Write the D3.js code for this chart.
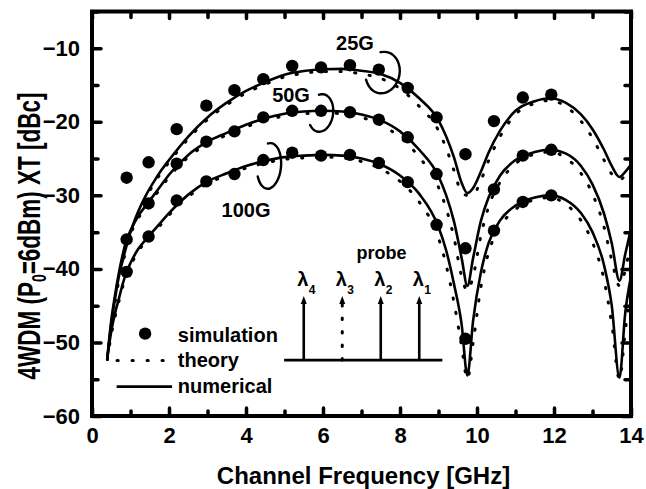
<!DOCTYPE html>
<html>
<head>
<meta charset="utf-8">
<script src="https://cdn.jsdelivr.net/npm/d3@7"></script>
<style>
  body { margin: 0; background: #fff; }
  svg { display: block; }
  text { font-family: "Liberation Sans", Arial, Helvetica, sans-serif; font-weight: bold; fill: #000; }
</style>
</head>
<body>
<svg id="chart" width="646" height="489"></svg>
<script>
// ---- data -------------------------------------------------------------
// frequency grid (GHz) shared by the theory and numerical curves
const freq = [0.4, 0.5, 0.6, 0.7, 0.8, 0.9, 1.0, 1.2, 1.4, 1.6, 1.8, 2.0, 2.5, 3.0, 3.5, 4.0, 4.5,
              5.0, 5.5, 6.0, 6.5, 7.0, 7.5, 8.0, 8.5, 9.0, 9.2, 9.4, 9.6, 9.75, 9.9, 10.1, 10.3,
              10.6, 11.0, 11.5, 11.9, 12.3, 12.7, 13.0, 13.3, 13.5, 13.7, 13.85, 14.0];

// numerical (solid) curves, dBc
const num25  = [-52, -47.5, -44, -41, -38.8, -36.8, -35.0, -32.2, -30.0, -28.2, -26.6, -25.2, -22.0, -19.4, -17.4, -15.8, -14.6,
                -13.6, -13.1, -12.85, -12.8, -13.05, -13.5, -14.7, -16.8, -19.8, -22.0, -24.8, -28.3, -29.7, -29.0, -26.8, -24.2,
                -21.2, -18.5, -17.2, -16.8, -17.4, -19.0, -21.0, -23.8, -26.0, -27.5, -26.8, -25.8];
const num50  = [-52, -47, -43.5, -40.5, -38, -36.0, -34.8, -32.8, -31.4, -30.0, -28.6, -27.2, -24.5, -22.7, -21.5, -20.4, -19.5,
                -18.9, -18.6, -18.5, -18.6, -19.0, -19.8, -21.3, -23.8, -27.4, -30.0, -33.5, -38.5, -42.3, -38.5, -33.5, -30.3,
                -27.3, -25.2, -24.1, -23.8, -24.3, -26.0, -28.5, -32.5, -36.5, -41.6, -38.0, -34.5];
const num100 = [-52, -48.5, -46, -44, -42, -40.4, -39.2, -37.3, -36.0, -34.8, -33.6, -32.4, -29.9, -28.1, -27.0, -26.0, -25.3,
                -24.8, -24.6, -24.5, -24.6, -25.0, -25.8, -27.3, -29.8, -34.3, -37.5, -42.0, -47.5, -54.5, -47.0, -40.5, -36.5,
                -33.4, -31.4, -30.3, -30.0, -30.6, -32.4, -35.0, -39.5, -45.0, -54.8, -46.0, -41.0];

// theory (dotted) curves, dBc
const thy25  = [-52.3, -48, -44.5, -41.5, -39.2, -37.2, -35.4, -32.5, -30.3, -28.5, -26.9, -25.5, -22.3, -19.7, -17.7, -16.1, -14.9,
                -13.9, -13.4, -13.15, -13.15, -13.5, -14.1, -15.5, -17.9, -21.2, -23.6, -26.6, -29.6, -30.0, -29.9, -28.0, -25.3,
                -22.0, -19.0, -17.5, -17.1, -17.9, -19.9, -22.2, -25.2, -27.1, -27.9, -27.3, -26.3];
const thy50  = [-52.3, -47.5, -44, -41, -38.4, -36.4, -35.2, -33.1, -31.7, -30.3, -28.9, -27.5, -24.8, -23.0, -21.8, -20.7, -19.8,
                -19.2, -18.9, -18.8, -18.9, -19.4, -20.4, -22.1, -24.8, -28.9, -31.8, -35.7, -41.0, -43.0, -41.0, -35.5, -31.6,
                -28.2, -25.7, -24.4, -24.1, -24.9, -27.0, -29.8, -34.3, -38.8, -42.3, -40.2, -36.0];
const thy100 = [-52.3, -49, -46.5, -44.4, -42.4, -40.8, -39.6, -37.6, -36.3, -35.1, -33.9, -32.7, -30.2, -28.4, -27.3, -26.3, -25.6,
                -25.1, -24.9, -24.8, -24.9, -25.4, -26.4, -28.1, -30.9, -35.8, -39.5, -44.5, -50.5, -55.0, -50.0, -42.5, -37.8,
                -34.3, -31.9, -30.6, -30.3, -31.2, -33.4, -36.4, -41.5, -47.5, -55.0, -48.5, -42.5];

// simulation points
const simFreq = [0.9, 1.47, 2.2, 2.97, 3.7, 4.45, 5.2, 5.95, 6.7, 7.45, 8.2, 8.95, 9.7, 10.44, 11.19, 11.93];
const sim25   = [-27.6, -25.5, -21.0, -17.8, -15.7, -14.2, -12.4, -12.6, -12.3, -12.9, -15.4, -19.4, -24.4, -19.9, -16.7, -16.3];
const sim50   = [-36.0, -31.1, -25.7, -22.7, -21.3, -19.4, -18.5, -18.5, -18.7, -19.7, -22.1, -27.1, -37.2, -29.2, -24.6, -23.8];
const sim100  = [-40.4, -35.6, -30.7, -28.1, -27.1, -25.2, -24.2, -24.6, -24.5, -25.6, -28.2, -34.0, -49.5, -34.8, -30.9, -30.0];

// axis ticks
const xTicks = [0, 2, 4, 6, 8, 10, 12, 14];
const xMinor = [1, 3, 5, 7, 9, 11, 13];
const yTicks = [-60, -50, -40, -30, -20, -10];
const yMinor = [-55, -45, -35, -25, -15, -5];

// series labels
const seriesNames = ["25G", "50G", "100G"];

// inset channel diagram
const channels = [{ name: "4", f: 5.5, dotted: false }, { name: "3", f: 6.5, dotted: true },
                  { name: "2", f: 7.5, dotted: false }, { name: "1", f: 8.5, dotted: false }];

// ---- layout -----------------------------------------------------------
const svg = d3.select("#chart");
const x = d3.scaleLinear().domain([0, 14]).range([92, 631]);
const y = d3.scaleLinear().domain([-60, -5]).range([416, 11.5]);

svg.append("rect").attr("width", 646).attr("height", 489).attr("fill", "#fff");

svg.append("defs").append("clipPath").attr("id", "plotClip")
  .append("rect").attr("x", x(0)).attr("y", y(-5)).attr("width", x(14) - x(0)).attr("height", y(-60) - y(-5));

// ---- axes -------------------------------------------------------------
function styleAxis(g, width) {
  g.select(".domain").remove();
  g.selectAll(".tick line").attr("stroke", "#000").attr("stroke-width", width).attr("stroke-linecap", "round");
}
const tickW = 3.5;

svg.append("g").attr("transform", `translate(0,${y(-60)})`)
  .call(d3.axisBottom(x).tickValues(xTicks).tickSize(-8).tickPadding(11).tickFormat(d3.format("d")))
  .call(g => styleAxis(g, tickW))
  .call(g => g.selectAll(".tick text").attr("font-size", 22).attr("fill", "#000"));
svg.append("g").attr("transform", `translate(0,${y(-60)})`)
  .call(d3.axisBottom(x).tickValues(xMinor).tickSize(-5).tickFormat(""))
  .call(g => styleAxis(g, tickW));

svg.append("g").attr("transform", `translate(0,${y(-5)})`)
  .call(d3.axisTop(x).tickValues(xTicks).tickSize(-7).tickFormat(""))
  .call(g => styleAxis(g, tickW));
svg.append("g").attr("transform", `translate(0,${y(-5)})`)
  .call(d3.axisTop(x).tickValues(xMinor).tickSize(-6).tickFormat(""))
  .call(g => styleAxis(g, tickW));

svg.append("g").attr("transform", `translate(${x(0)},0)`)
  .call(d3.axisLeft(y).tickValues(yTicks).tickSize(-9).tickPadding(12).tickFormat(d3.format("d")))
  .call(g => styleAxis(g, tickW))
  .call(g => g.selectAll(".tick text").attr("font-size", 22).attr("fill", "#000"));
svg.append("g").attr("transform", `translate(${x(0)},0)`)
  .call(d3.axisLeft(y).tickValues(yMinor).tickSize(-6).tickFormat(""))
  .call(g => styleAxis(g, tickW));

svg.append("g").attr("transform", `translate(${x(14)},0)`)
  .call(d3.axisRight(y).tickValues(yTicks).tickSize(-9).tickFormat(""))
  .call(g => styleAxis(g, tickW));
svg.append("g").attr("transform", `translate(${x(14)},0)`)
  .call(d3.axisRight(y).tickValues(yMinor).tickSize(-6).tickFormat(""))
  .call(g => styleAxis(g, tickW));

// frame
svg.append("rect")
  .attr("x", x(0)).attr("y", y(-5)).attr("width", x(14) - x(0)).attr("height", y(-60) - y(-5))
  .attr("fill", "none").attr("stroke", "#000").attr("stroke-width", 4);

// axis titles
svg.append("text").attr("x", (x(0) + x(14)) / 2 + 2).attr("y", 484)
  .attr("text-anchor", "middle").attr("font-size", 24).text("Channel Frequency [GHz]");

const yTitle = svg.append("g").attr("transform", `translate(40,236) rotate(-90) scale(1,1.38)`)
  .append("text").attr("text-anchor", "middle").attr("font-size", 22.5);
yTitle.append("tspan").text("4WDM (P");
yTitle.append("tspan").attr("font-size", 14).attr("dy", 4).text("0");
yTitle.append("tspan").attr("dy", -4).text("=6dBm) XT [dBc]");

// ---- curves -----------------------------------------------------------
const plot = svg.append("g").attr("clip-path", "url(#plotClip)");
const line = d3.line().x(d => x(d[0])).y(d => y(d[1])).curve(d3.curveMonotoneX);

const theory = [thy25, thy50, thy100];
const numerical = [num25, num50, num100];
const simulation = [sim25, sim50, sim100];

theory.forEach(vals => {
  plot.append("path").datum(freq.map((f, i) => [f, vals[i]]))
    .attr("d", line).attr("fill", "none").attr("stroke", "#000")
    .attr("stroke-width", 3).attr("stroke-dasharray", "1.2 13.5").attr("stroke-linecap", "round");
});
numerical.forEach(vals => {
  plot.append("path").datum(freq.map((f, i) => [f, vals[i]]))
    .attr("d", line).attr("fill", "none").attr("stroke", "#000").attr("stroke-width", 2.6);
});
simulation.forEach(vals => {
  plot.append("g").selectAll("circle").data(simFreq.map((f, i) => [f, vals[i]])).join("circle")
    .attr("cx", d => x(d[0])).attr("cy", d => y(d[1])).attr("r", 6.2).attr("fill", "#000");
});

// ---- series labels with looped markers --------------------------------
const loops = [
  { label: seriesNames[0], lf: 6.83, lv: -10.3, cf: 7.55, cv: -13.3, rx: 17, ry: 21, tilt: 12, a0: -112, a1: 150 },
  { label: seriesNames[1], lf: 5.17, lv: -17.3, cf: 5.94, cv: -18.8, rx: 12.5, ry: 19, tilt: 8, a0: -110, a1: 135 },
  { label: seriesNames[2], lf: 4.0,  lv: -33.0, cf: 4.6,  cv: -26.0, rx: 12, ry: 23, tilt: 5, a0: -105, a1: 150 }
];
const loopLine = d3.line().curve(d3.curveBasis);
loops.forEach(l => {
  svg.append("text").attr("x", x(l.lf)).attr("y", y(l.lv)).attr("text-anchor", "middle")
    .attr("font-size", 20).text(l.label);
  const cx = x(l.cf), cy = y(l.cv), t = l.tilt * Math.PI / 180;
  const pts = d3.range(0, 25).map(k => {
    const a = (l.a0 + (l.a1 - l.a0) * k / 24) * Math.PI / 180;
    const ex = l.rx * Math.cos(a), ey = l.ry * Math.sin(a);
    return [cx + ex * Math.cos(t) - ey * Math.sin(t), cy + ex * Math.sin(t) + ey * Math.cos(t)];
  });
  svg.append("path").attr("d", loopLine(pts)).attr("fill", "none")
    .attr("stroke", "#000").attr("stroke-width", 2.4).attr("stroke-linecap", "round");
});

// ---- legend -----------------------------------------------------------
const legend = svg.append("g");
legend.append("circle").attr("cx", x(1.38)).attr("cy", y(-48.8)).attr("r", 6.2).attr("fill", "#000");
legend.append("line").attr("x1", x(0.65)).attr("x2", x(2.0)).attr("y1", y(-52.45)).attr("y2", y(-52.45))
  .attr("stroke", "#000").attr("stroke-width", 3).attr("stroke-dasharray", "1.2 13.8").attr("stroke-linecap", "round");
legend.append("line").attr("x1", x(0.64)).attr("x2", x(2.08)).attr("y1", y(-56)).attr("y2", y(-56))
  .attr("stroke", "#000").attr("stroke-width", 2.6);
[["simulation", -49.95], ["theory", -53.35], ["numerical", -56.9]].forEach(([t, v]) => {
  legend.append("text").attr("x", x(2.23)).attr("y", y(v)).attr("font-size", 20).text(t);
});

// ---- inset: channel arrangement ---------------------------------------
const inset = svg.append("g");
inset.append("line").attr("x1", x(4.99)).attr("x2", x(9.1)).attr("y1", y(-52.4)).attr("y2", y(-52.4))
  .attr("stroke", "#000").attr("stroke-width", 2.6);
channels.forEach(c => {
  const cx = x(c.f), top = y(-43.7), base = y(-52.4);
  inset.append("line").attr("x1", cx).attr("x2", cx).attr("y1", base).attr("y2", top + 7)
    .attr("stroke", "#000").attr("stroke-width", c.dotted ? 3 : 2.6)
    .attr("stroke-dasharray", c.dotted ? "1.5 12" : null).attr("stroke-linecap", c.dotted ? "round" : "butt");
  inset.append("path").attr("d", `M${cx},${top} L${cx - 3},${top + 8} L${cx + 3},${top + 8} Z`).attr("fill", "#000");
  inset.append("text").attr("x", cx - 1).attr("y", y(-42.3)).attr("text-anchor", "middle")
    .attr("font-size", 20).attr("font-weight", "normal").text("λ");
  inset.append("text").attr("x", cx + 5).attr("y", y(-43.4)).attr("font-size", 12).attr("font-weight", "normal").text(c.name);
});
inset.append("text").attr("x", x(7.52)).attr("y", y(-38.6)).attr("text-anchor", "middle")
  .attr("font-size", 18).text("probe");
</script>
</body>
</html>
